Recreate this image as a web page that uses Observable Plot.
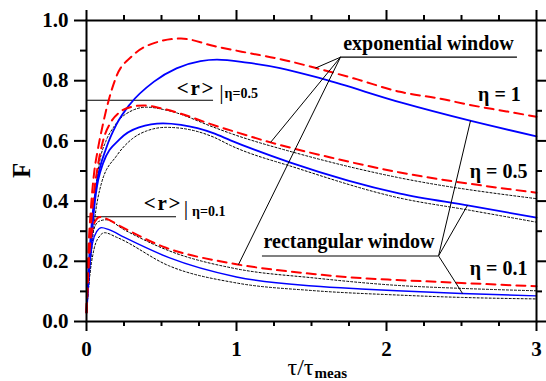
<!DOCTYPE html>
<html><head><meta charset="utf-8">
<script src="https://cdn.jsdelivr.net/npm/d3@7"></script>
<script src="https://cdn.jsdelivr.net/npm/@observablehq/plot@0.6"></script>
<style>body{margin:0;background:#fff}</style>
</head><body><div id="chart"></div>
<script>
// ---- data: eta = 1 ----
const tauExp1 = [0, 0.01, 0.03, 0.05, 0.075, 0.105, 0.135, 0.2, 0.3, 0.45, 0.63, 0.85, 1.07, 1.29, 1.53, 1.78, 2.09, 2.36, 2.55, 2.8, 3];
const FExp1   = [0.03, 0.2, 0.38, 0.49, 0.57, 0.645, 0.71, 0.815, 0.88, 0.925, 0.94, 0.915, 0.893, 0.872, 0.842, 0.808, 0.763, 0.74, 0.72, 0.698, 0.68];
const tauRect1 = [0, 0.01, 0.03, 0.067, 0.133, 0.2, 0.29, 0.45, 0.6, 0.76, 0.87, 1.07, 1.29, 1.58, 2.1, 2.55, 3];
const FRect1   = [0.03, 0.14, 0.3, 0.455, 0.578, 0.655, 0.722, 0.797, 0.841, 0.865, 0.87, 0.86, 0.842, 0.805, 0.727, 0.668, 0.615];
// ---- data: eta = 0.5 ----
const tauExp05 = [0, 0.015, 0.04, 0.07, 0.11, 0.16, 0.22, 0.3, 0.38, 0.5, 0.63, 0.85, 0.96, 1.227, 1.627, 2.09, 2.55, 3];
const FExp05   = [0.03, 0.2, 0.38, 0.5, 0.6, 0.66, 0.695, 0.713, 0.718, 0.708, 0.69, 0.652, 0.635, 0.595, 0.545, 0.495, 0.458, 0.428];
const tauUp05 = [0, 0.02, 0.05, 0.087, 0.13, 0.18, 0.25, 0.4, 0.55, 0.85, 0.96, 1.41, 2.09, 3];
const FUp05   = [0.03, 0.2, 0.39, 0.53, 0.6, 0.645, 0.685, 0.712, 0.7, 0.645, 0.625, 0.558, 0.477, 0.408];
const tauRect05 = [0, 0.02, 0.05, 0.11, 0.22, 0.35, 0.51, 0.63, 0.85, 0.96, 1.36, 2.09, 2.55, 3];
const FRect05   = [0.03, 0.18, 0.37, 0.525, 0.605, 0.645, 0.658, 0.653, 0.625, 0.602, 0.528, 0.425, 0.385, 0.345];
const tauLo05 = [0, 0.02, 0.05, 0.1, 0.2, 0.3, 0.4, 0.53, 0.63, 0.85, 0.96, 1.4, 2.09, 2.55, 3];
const FLo05   = [0.03, 0.15, 0.32, 0.46, 0.55, 0.605, 0.633, 0.645, 0.642, 0.612, 0.585, 0.51, 0.41, 0.37, 0.33];
// ---- data: eta = 0.1 ----
const tauExp01 = [0, 0.01, 0.03, 0.06, 0.09, 0.13, 0.22, 0.53, 0.89, 1.0, 1.51, 1.87, 2.07, 2.5, 3];
const FExp01   = [0.03, 0.15, 0.28, 0.335, 0.347, 0.342, 0.318, 0.245, 0.2, 0.19, 0.158, 0.143, 0.138, 0.128, 0.117];
const tauUp01 = [0, 0.01, 0.04, 0.08, 0.13, 0.25, 0.55, 1.0, 1.51, 2.07, 2.5, 3];
const FUp01   = [0.03, 0.14, 0.29, 0.332, 0.338, 0.305, 0.235, 0.175, 0.145, 0.12, 0.11, 0.102];
const tauRect01 = [0, 0.01, 0.04, 0.07, 0.1, 0.15, 0.25, 0.55, 1.0, 1.51, 1.83, 2.07, 2.5, 3];
const FRect01   = [0.03, 0.12, 0.26, 0.3, 0.312, 0.305, 0.28, 0.212, 0.148, 0.118, 0.108, 0.102, 0.093, 0.085];
const tauLo01 = [0, 0.015, 0.05, 0.09, 0.12, 0.2, 0.55, 1.0, 1.5, 2.07, 2.5, 3];
const FLo01   = [0.03, 0.12, 0.24, 0.285, 0.295, 0.28, 0.185, 0.128, 0.103, 0.088, 0.08, 0.075];

// <r> levels
const rLevelF    = [0.735, 0.348];
const rLevelTau2 = [0.847, 0.6];

// leader lines: exponential window
const expAnchor = [1.693, 0.878];
const expTargetTau = [1.527, 1.227, 1.013];
const expTargetF   = [0.842, 0.595, 0.189];
const expUnderlineTau = [1.693, 2.873];
// leader lines: rectangular window
const rectAnchor = [2.347, 0.218];
const rectTargetTau = [2.56, 2.54, 2.507];
const rectTargetF   = [0.667, 0.386, 0.093];
const rectUnderlineTau = [1.173, 2.347];

// ticks
const xMajor = [0, 1, 2, 3];
const xMinor = [0.25, 0.5, 0.75, 1.25, 1.5, 1.75, 2.25, 2.5, 2.75];
const yMajor = [0, 0.2, 0.4, 0.6, 0.8, 1.0];
const yMinor = [0.1, 0.3, 0.5, 0.7, 0.9];

// labels
const etaLabels = ["η = 1", "η = 0.5", "η = 0.1"];
const etaLabelTau = [2.753, 2.747, 2.747];
const etaLabelF = [0.755, 0.498, 0.175];
const windowLabels = ["exponential window", "rectangular window"];
const windowLabelTau = [2.28, 1.75];
const windowLabelF = [0.922, 0.265];
const rMain = ["<\u200Ar\u200A>", "<\u200Ar\u200A>"];
const rSubs = ["η=0.5", "η=0.1"];

const rows = (xs, ys) => xs.map((x, i) => ({x, y: ys[i]}));
const red = "#ff0000", blue = "#0000ff";
const dash = "9,6", dot = "2,2";
const C = "monotone-x";
const serif = "'Liberation Serif', 'Times New Roman', serif";

const redLine = (xs, ys) => Plot.line(rows(xs, ys), {x: "x", y: "y", stroke: red, strokeWidth: 2, strokeDasharray: dash, curve: C});
const blueLine = (xs, ys, w) => Plot.line(rows(xs, ys), {x: "x", y: "y", stroke: blue, strokeWidth: w, curve: C});
const dotLine = (xs, ys) => Plot.line(rows(xs, ys), {x: "x", y: "y", stroke: "#000", strokeWidth: 1, strokeDasharray: dot, curve: C});

const rLines = rLevelF.map((f, i) => ({x1: 0, x2: rLevelTau2[i], y: f}));
const expLinks = expTargetTau.map((t, i) => ({x1: expAnchor[0], y1: expAnchor[1], x2: t, y2: expTargetF[i]}));
const rectLinks = rectTargetTau.map((t, i) => ({x1: rectAnchor[0], y1: rectAnchor[1], x2: t, y2: rectTargetF[i]}));

const axisFont = {fontFamily: serif, fontWeight: "bold", fontSize: 21};

const chart = Plot.plot({
  width: 546, height: 381,
  marginLeft: 86, marginRight: 10, marginTop: 20, marginBottom: 60,
  style: {fontFamily: serif, background: "#fff", overflow: "visible"},
  x: {domain: [0, 3], label: null},
  y: {domain: [0, 1], label: null},
  marks: [
    // <r> horizontal lines
    Plot.ruleY(rLines, {x1: "x1", x2: "x2", y: "y", stroke: "#000", strokeWidth: 1.2}),
    // curves
    dotLine(tauUp05, FUp05), dotLine(tauLo05, FLo05),
    dotLine(tauUp01, FUp01), dotLine(tauLo01, FLo01),
    blueLine(tauRect1, FRect1, 1.8), blueLine(tauRect05, FRect05, 1.8), blueLine(tauRect01, FRect01, 1.4),
    redLine(tauExp1, FExp1), redLine(tauExp05, FExp05), redLine(tauExp01, FExp01),
    // leader lines
    Plot.link(expLinks, {x1: "x1", y1: "y1", x2: "x2", y2: "y2", stroke: "#000", strokeWidth: 1}),
    Plot.link(rectLinks, {x1: "x1", y1: "y1", x2: "x2", y2: "y2", stroke: "#000", strokeWidth: 1}),
    Plot.ruleY([expAnchor[1]], {x1: expUnderlineTau[0], x2: expUnderlineTau[1], stroke: "#000", strokeWidth: 1.2}),
    Plot.ruleY([rectAnchor[1]], {x1: rectUnderlineTau[0], x2: rectUnderlineTau[1], stroke: "#808080", strokeWidth: 2}),
    // labels
    Plot.text(windowLabels, {x: (d, i) => windowLabelTau[i], y: (d, i) => windowLabelF[i], text: d => d, fontSize: 20, fontWeight: "bold", textAnchor: "middle", lineAnchor: "middle"}),
    Plot.text(etaLabels, {x: (d, i) => etaLabelTau[i], y: (d, i) => etaLabelF[i], text: d => d, fontSize: 20, fontWeight: "bold", textAnchor: "middle", lineAnchor: "middle"}),
    Plot.text(rMain, {x: [0.847, 0.627], y: [0.775, 0.393], text: d => d, fontSize: 21, fontWeight: "bold", textAnchor: "end", lineAnchor: "middle"}),
    Plot.text(["|", "|"], {x: [0.9, 0.663], y: [0.762, 0.376], text: d => d, fontSize: 22, textAnchor: "middle", lineAnchor: "middle"}),
    Plot.text(rSubs, {x: [0.92, 0.703], y: [0.756, 0.366], text: d => d, fontSize: 14, fontWeight: "bold", textAnchor: "start", lineAnchor: "middle"}),
    // axis titles
    Plot.text(["F"], {x: -0.427, y: 0.502, text: d => d, fontSize: 25, fontWeight: "bold", rotate: -90, textAnchor: "middle", lineAnchor: "middle"}),
    Plot.text(["τ/τ"], {x: 1.513, y: -0.152, text: d => d, fontSize: 24, textAnchor: "end", lineAnchor: "middle"}),
    Plot.text(["meas"], {x: 1.52, y: -0.172, text: d => d, fontSize: 15, fontWeight: "bold", textAnchor: "start", lineAnchor: "middle"}),
    // frame and axes
    Plot.frame({stroke: "#000", strokeWidth: 2}),
    Plot.axisX(xMajor, {anchor: "bottom", tickSize: 10, tickPadding: 10, strokeWidth: 2, ...axisFont, tickFormat: d => String(d), label: null}),
    Plot.axisX(xMinor, {anchor: "bottom", tickSize: 5, strokeWidth: 2, tickFormat: () => "", label: null}),
    Plot.axisX(xMajor, {anchor: "top", tickSize: 11, strokeWidth: 2, tickFormat: () => "", label: null}),
    Plot.axisX(xMinor, {anchor: "top", tickSize: 6, strokeWidth: 2, tickFormat: () => "", label: null}),
    Plot.axisY(yMajor, {anchor: "left", tickSize: 12, tickPadding: 6, strokeWidth: 2, ...axisFont, tickFormat: d3.format(".1f"), label: null}),
    Plot.axisY(yMinor, {anchor: "left", tickSize: 6, strokeWidth: 2, tickFormat: () => "", label: null}),
    Plot.axisY(yMajor, {anchor: "right", tickSize: 10, strokeWidth: 2, tickFormat: () => "", label: null}),
    Plot.axisY(yMinor, {anchor: "right", tickSize: 5, strokeWidth: 2, tickFormat: () => "", label: null})
  ]
});
document.getElementById("chart").appendChild(chart);
</script></body></html>
